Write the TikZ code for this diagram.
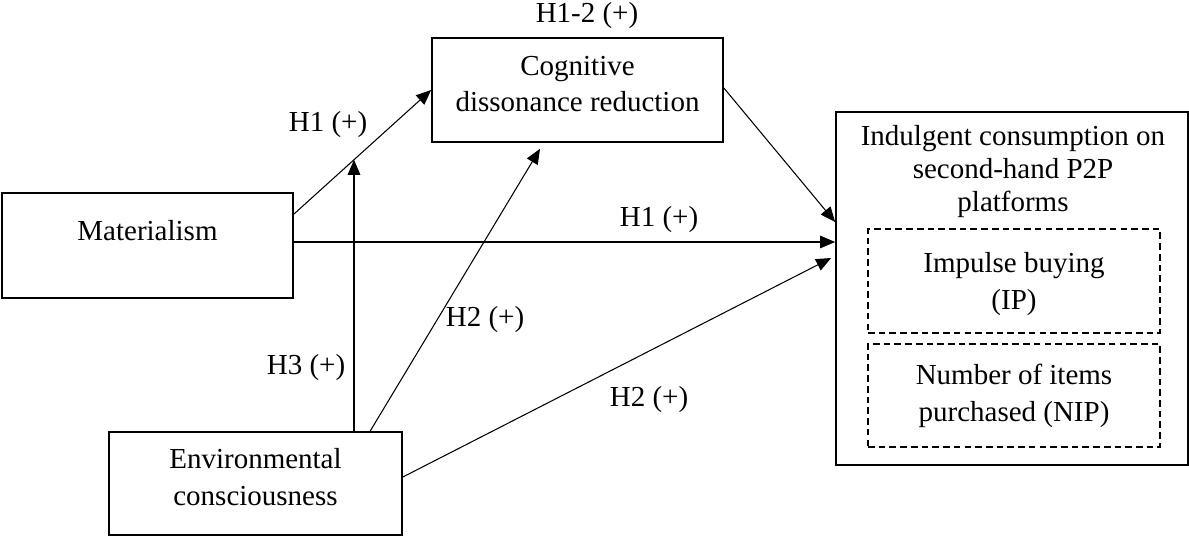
\documentclass[tikz,border=0pt]{standalone}
\usepackage{fontspec}
\setmainfont{Liberation Serif}
\usetikzlibrary{calc,arrows.meta}
\tikzset{>={Triangle[length=0.3cm,width=0.25cm]}}
\tikzset{ var/.style={draw,line width=1pt,align=center,inner sep=0pt}, sub/.style={var,dash pattern=on 3.8pt off 2.3pt}, hyp/.style={anchor=base,inner sep=0pt} }

\begin{document}
\begin{tikzpicture}[x=0.02cm,y=-0.02cm,semithick,font=\fontsize{16.5}{21}\selectfont]
  \useasboundingbox (0,0) rectangle (1189,536);
  % variables
  \node[var,minimum width=5.82cm,minimum height=2.08cm,text depth=6.9pt] (cog) at (577.5,90) {Cognitive\\dissonance reduction};
  \node[var,minimum width=5.82cm,minimum height=2.1cm,text depth=17.5pt] (mat) at (147.5,245.5) {Materialism};
  \node[var,minimum width=5.86cm,minimum height=2.06cm,text depth=7.9pt] (env) at (255.5,483.5) {Environmental\\consciousness};
  % outcome with its two measures
  \node[var,minimum width=7.04cm,minimum height=7.06cm] (ind) at (1012,288.5) {};
  \node[anchor=base,align=center,inner sep=0pt,font=\fontsize{16.5}{18.8}\selectfont] (indtxt) at (1013,212) {Indulgent consumption on\\second-hand P2P\\platforms};
  \node[sub,minimum width=5.84cm,minimum height=2.08cm,text depth=0pt] (ip) at (1014,281) {Impulse buying\\(IP)};
  \node[sub,minimum width=5.84cm,minimum height=2.06cm] (nip) at (1014,395.5) {Number of items\\purchased (NIP)};
  % paths
  \coordinate (m1) at ($(mat.north east)+(0,22)$);
  \draw[->] (m1) -- coordinate[pos=0.438] (mod) (cog.west);
  \coordinate (m2) at ($(mat.east)+(0,-3.5)$);
  \draw[->] (m2) -- (m2 -| ind.west);
  \draw[->] ($(cog.east)+(0,-2)$) -- ($(ind.west)+(0,-66.5)$);
  \draw[->] ($(env.north west)+(262,0)$) -- ($(cog.south)+(-37.5,6)$);
  \draw[->] ($(env.east)+(0,-6.5)$) -- ($(ind.west)+(-4,-30.5)$);
  % moderation
  \draw[->] (env.north -| mod) -- (mod);
  % hypotheses
  \node[hyp] (h12) at (587,23) {H1-2 (+)};
  \node[hyp] (h1a) at (328,132) {H1 (+)};
  \node[hyp] (h3) at (306,375) {H3 (+)};
  \node[hyp] (h2a) at (485,327) {H2 (+)};
  \node[hyp] (h1b) at (659,227) {H1 (+)};
  \node[hyp] (h2b) at (649,407) {H2 (+)};
\end{tikzpicture}
\end{document}
